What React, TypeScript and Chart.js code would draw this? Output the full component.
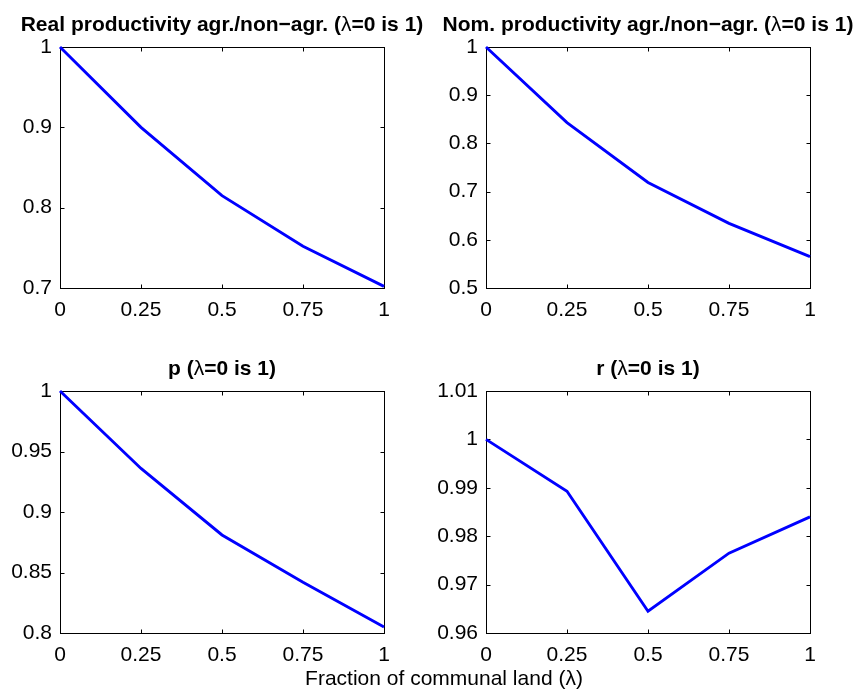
import React, { useEffect, useRef } from "react";
import { Chart, registerables } from "chart.js";

Chart.register(...registerables);

// ---- data ----
const lambdaValues = [0, 0.25, 0.5, 0.75, 1];
const realProductivity = [1, 0.9, 0.815, 0.752, 0.702];
const nominalProductivity = [1, 0.843, 0.719, 0.634, 0.565];
const pValues = [1, 0.936, 0.881, 0.842, 0.805];
const rValues = [1, 0.9893, 0.9645, 0.9765, 0.984];

const xTicks = [0, 0.25, 0.5, 0.75, 1];
const yTicksReal = [0.7, 0.8, 0.9, 1];
const yTicksNominal = [0.5, 0.6, 0.7, 0.8, 0.9, 1];
const yTicksP = [0.8, 0.85, 0.9, 0.95, 1];
const yTicksR = [0.96, 0.97, 0.98, 0.99, 1, 1.01];

const titleReal = ["Real productivity agr./non\u2212agr. (", "\u03bb", "=0 is 1)"];
const titleNominal = ["Nom. productivity agr./non\u2212agr. (", "\u03bb", "=0 is 1)"];
const titleP = ["p (", "\u03bb", "=0 is 1)"];
const titleR = ["r (", "\u03bb", "=0 is 1)"];
const xAxisLabel = "Fraction of communal land (\u03bb)";

const W = 860;
const H = 690;
const FONT = "'Liberation Sans', Arial, Helvetica, sans-serif";

type Panel = {
  title: string[];
  values: number[];
  yTicks: number[];
  area: { left: number; top: number; right: number; bottom: number };
  xlabel?: boolean;
};

const panels: Panel[] = [
  { title: titleReal, values: realProductivity, yTicks: yTicksReal, area: { left: 60, top: 47, right: 384, bottom: 288 } },
  { title: titleNominal, values: nominalProductivity, yTicks: yTicksNominal, area: { left: 486, top: 47, right: 810, bottom: 288 } },
  { title: titleP, values: pValues, yTicks: yTicksP, area: { left: 60, top: 391, right: 384, bottom: 633 } },
  { title: titleR, values: rValues, yTicks: yTicksR, area: { left: 486, top: 391, right: 810, bottom: 633 }, xlabel: true },
];

function fmt(v: number) {
  return String(Number(v.toFixed(6)));
}

function PanelChart({ panel }: { panel: Panel }) {
  const ref = useRef<HTMLCanvasElement | null>(null);
  useEffect(() => {
    const canvas = ref.current;
    if (!canvas) return;
    const yMin = panel.yTicks[0];
    const yMax = panel.yTicks[panel.yTicks.length - 1];
    const decor = {
      id: "matlabDecor",
      beforeDatasetsDraw(chart: any) {
        const { ctx, chartArea } = chart;
        const { left, top, right, bottom } = chartArea;
        ctx.save();
        ctx.strokeStyle = "#000";
        ctx.lineWidth = 1;
        ctx.strokeRect(left + 0.5, top + 0.5, right - left, bottom - top);
        const tl = 4;
        ctx.beginPath();
        const xs = chart.scales.x;
        xTicks.forEach((v) => {
          const px = Math.round(xs.getPixelForValue(v)) + 0.5;
          ctx.moveTo(px, bottom + 0.5);
          ctx.lineTo(px, bottom + 0.5 - tl);
          ctx.moveTo(px, top + 0.5);
          ctx.lineTo(px, top + 0.5 + tl);
        });
        const ys = chart.scales.y;
        panel.yTicks.forEach((v) => {
          const py = Math.round(ys.getPixelForValue(v)) + 0.5;
          ctx.moveTo(left + 0.5, py);
          ctx.lineTo(left + 0.5 + tl, py);
          ctx.moveTo(right + 0.5, py);
          ctx.lineTo(right + 0.5 - tl, py);
        });
        ctx.stroke();
        ctx.restore();
      },
      afterDraw(chart: any) {
        const { ctx, chartArea } = chart;
        const { left, top, right } = chartArea;
        ctx.save();
        ctx.fillStyle = "#000";
        ctx.textBaseline = "alphabetic";
        ctx.textAlign = "left";
        const fonts = [`bold 21px ${FONT}`, `21px ${FONT}`, `bold 21px ${FONT}`];
        const widths = panel.title.map((s, i) => {
          ctx.font = fonts[i];
          return ctx.measureText(s).width;
        });
        const total = widths.reduce((a, b) => a + b, 0);
        let x = (left + right) / 2 - total / 2;
        const y = top - 16;
        panel.title.forEach((s, i) => {
          ctx.font = fonts[i];
          ctx.fillText(s, x, y);
          x += widths[i];
        });
        if (panel.xlabel) {
          ctx.font = `21px ${FONT}`;
          ctx.textAlign = "center";
          ctx.fillText(xAxisLabel, 444, 685);
        }
        ctx.restore();
      },
    };
    const tickFont = { family: FONT, size: 21 };
    const yAxisWidth = panel.area.left;
    const xAxisHeight = H - panel.area.bottom;
    const chart = new Chart(canvas, {
      type: "line",
      data: {
        datasets: [
          {
            data: lambdaValues.map((x, i) => ({ x, y: panel.values[i] })),
            borderColor: "#0000ff",
            borderWidth: 2.9,
            pointRadius: 0,
            tension: 0,
            fill: false,
            clip: 4,
          },
        ],
      },
      options: {
        responsive: false,
        animation: false,
        devicePixelRatio: 1,
        events: [],
        layout: {
          padding: {
            left: 0,
            top: panel.area.top,
            right: W - panel.area.right,
            bottom: 0,
          },
        },
        plugins: {
          legend: { display: false },
          tooltip: { enabled: false },
          title: { display: false },
        },
        scales: {
          x: {
            type: "linear",
            min: 0,
            max: 1,
            afterFit: (s: any) => {
              s.height = xAxisHeight;
            },
            afterBuildTicks: (s: any) => {
              s.ticks = xTicks.map((v) => ({ value: v }));
            },
            grid: { display: false, drawTicks: false },
            border: { display: false },
            ticks: {
              autoSkip: false,
              maxRotation: 0,
              minRotation: 0,
              padding: 10,
              color: "#000",
              font: tickFont,
              callback: (v: any) => fmt(Number(v)),
            },
          },
          y: {
            type: "linear",
            min: yMin,
            max: yMax,
            afterFit: (s: any) => {
              s.width = yAxisWidth;
            },
            afterBuildTicks: (s: any) => {
              s.ticks = panel.yTicks.map((v) => ({ value: v }));
            },
            grid: { display: false, drawTicks: false },
            border: { display: false },
            ticks: {
              autoSkip: false,
              padding: 8,
              color: "#000",
              font: tickFont,
              callback: (v: any) => fmt(Number(v)),
            },
          },
        },
      },
      plugins: [decor],
    } as any);
    return () => chart.destroy();
  }, [panel]);
  return (
    <canvas
      ref={ref}
      width={W}
      height={H}
      style={{ position: "absolute", left: 0, top: 0, width: W, height: H }}
    />
  );
}

export default function App() {
  return (
    <div style={{ position: "absolute", left: 0, top: 0, width: W, height: H, background: "#fff" }}>
      {panels.map((p, i) => (
        <PanelChart key={i} panel={p} />
      ))}
    </div>
  );
}
